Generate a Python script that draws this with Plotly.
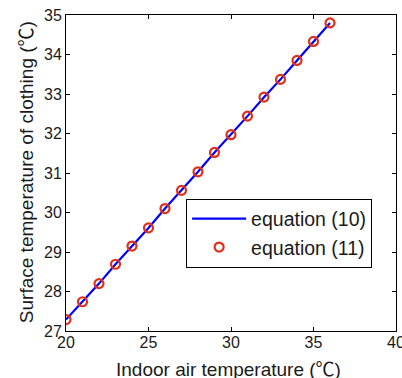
import plotly.graph_objects as go

indoor_temp = [20, 21, 22, 23, 24, 25, 26, 27, 28, 29, 30, 31, 32, 33, 34, 35, 36]
eq10_surface = [27.29, 27.74, 28.20, 28.69, 29.15, 29.61, 30.10, 30.56, 31.03, 31.52,
                31.97, 32.44, 32.92, 33.37, 33.85, 34.33, 34.80]
eq11_surface = [27.29, 27.74, 28.20, 28.69, 29.15, 29.61, 30.10, 30.56, 31.03, 31.52,
                31.97, 32.44, 32.92, 33.37, 33.85, 34.33, 34.80]
x_ticks = [20, 25, 30, 35, 40]
y_ticks = [27, 28, 29, 30, 31, 32, 33, 34, 35]
DEG = "<span style='font-family:\"Noto Sans CJK SC\"'>℃</span>"
x_title = "Indoor air temperature (" + DEG + ")"
y_title = "Surface temperature of clothing (" + DEG + ")"

FONT = "Arial, Liberation Sans, Noto Sans CJK SC, sans-serif"
TXT = "#1a1a1a"

fig = go.Figure()
fig.add_trace(go.Scatter(x=indoor_temp, y=eq10_surface, mode="lines",
                         name="equation (10)", line=dict(color="#0000ff", width=2.2)))
fig.add_trace(go.Scatter(x=indoor_temp, y=eq11_surface, mode="markers",
                         name="equation (11)",
                         marker=dict(symbol="circle-open", size=9, color="#e0301a",
                                     line=dict(width=2.2, color="#e0301a"))))

axis_common = dict(showgrid=False, zeroline=False, showline=True, linecolor="#000",
                   linewidth=1, mirror="ticks", ticks="inside", ticklen=4,
                   tickcolor="#000", ticklabeloverflow="allow", automargin=False,
                   tickfont=dict(family=FONT, size=16, color=TXT))

fig.update_layout(
    width=402, height=378,
    margin=dict(l=66, r=6, t=15, b=47),
    paper_bgcolor="white", plot_bgcolor="white",
    font=dict(family=FONT, color=TXT),
    xaxis=dict(range=[20, 40], tickvals=x_ticks, ticklabelstandoff=-3, **axis_common),
    yaxis=dict(range=[27, 35], tickvals=y_ticks, **axis_common),
    legend=dict(x=0.364, y=0.31, xanchor="left", yanchor="middle",
                bordercolor="#000", borderwidth=1, bgcolor="white",
                font=dict(family=FONT, size=19.5, color=TXT),
                tracegroupgap=0, itemwidth=54),
    annotations=[
        dict(text=x_title, xref="paper", yref="paper", x=0.493, y=-0.117,
             xanchor="center", yanchor="middle", showarrow=False,
             font=dict(family=FONT, size=19, color=TXT)),
        dict(text=y_title, xref="paper", yref="paper", x=-0.127, y=0.503,
             xanchor="center", yanchor="middle", showarrow=False, textangle=-90,
             font=dict(family=FONT, size=19, color=TXT)),
    ],
)

fig.write_html("out.html", config={"displayModeBar": False},
               post_script="document.body.style.margin='0';document.body.style.overflow='hidden';")
